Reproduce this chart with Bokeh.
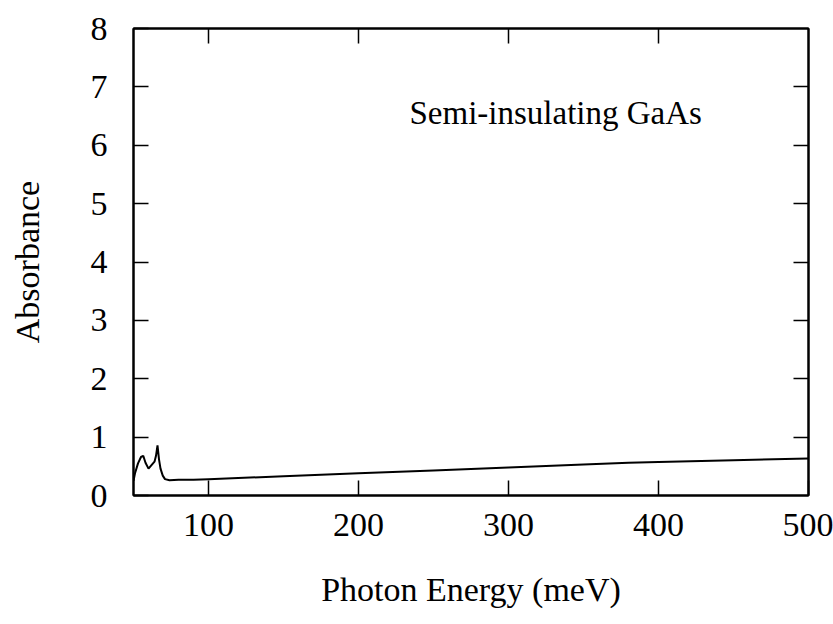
from bokeh.plotting import figure
from bokeh.models import LinearAxis, Range1d, FixedTicker, Label
from bokeh.embed import file_html
from bokeh.resources import INLINE

# Data
energy_mev = [50, 51, 53, 55, 56.5, 58, 60, 62, 64, 65, 66, 67, 68, 69.5, 71, 74,
              80, 90, 100, 150, 200, 250, 300, 350, 380, 400, 450, 500]
absorbance = [0.25, 0.38, 0.55, 0.66, 0.68, 0.56, 0.46, 0.52, 0.58, 0.68, 0.86, 0.62,
              0.46, 0.34, 0.28, 0.26, 0.27, 0.27, 0.28, 0.33, 0.38, 0.43, 0.48,
              0.53, 0.56, 0.575, 0.605, 0.635]
x_ticks = [100, 200, 300, 400, 500]
y_ticks = [0, 1, 2, 3, 4, 5, 6, 7, 8]
annotation = "Semi-insulating GaAs"
x_title = "Photon Energy (meV)"
y_title = "Absorbance"

FONT = "Liberation Serif"

p = figure(width=833, height=624, output_backend="svg", toolbar_location=None,
           x_range=Range1d(50, 500), y_range=Range1d(0, 8),
           min_border_left=133, min_border_right=25, min_border_top=28,
           min_border_bottom=129)
p.background_fill_color = "white"
p.border_fill_color = "white"
p.outline_line_color = "black"
p.outline_line_width = 2
p.grid.visible = False

p.line(energy_mev, absorbance, line_color="black", line_width=2)

# Main axes
for ax in (p.xaxis[0], p.yaxis[0]):
    ax.major_tick_in = 15
    ax.major_tick_out = 0
    ax.minor_tick_in = 0
    ax.minor_tick_out = 0
    ax.axis_line_width = 2
    ax.major_tick_line_width = 1.5
    ax.major_label_text_font = FONT
    ax.major_label_text_font_size = "34px"
    ax.major_label_text_color = "black"
    ax.axis_label_text_font = FONT
    ax.axis_label_text_font_size = "34px"
    ax.axis_label_text_font_style = "normal"
    ax.axis_label_text_color = "black"

p.xaxis[0].ticker = FixedTicker(ticks=x_ticks)
p.yaxis[0].ticker = FixedTicker(ticks=y_ticks)
p.xaxis[0].axis_label = x_title
p.yaxis[0].axis_label = y_title
p.xaxis[0].major_label_standoff = 18
p.xaxis[0].axis_label_standoff = 32
p.yaxis[0].major_label_standoff = 26
p.yaxis[0].axis_label_standoff = 42

# Mirror ticks on top and right
top = LinearAxis(ticker=FixedTicker(ticks=x_ticks[:-1]))
right = LinearAxis(ticker=FixedTicker(ticks=y_ticks[1:-1]))
for ax in (top, right):
    ax.major_tick_in = 15
    ax.major_tick_out = 0
    ax.minor_tick_in = 0
    ax.minor_tick_out = 0
    ax.axis_line_width = 2
    ax.major_tick_line_width = 1.5
    ax.major_label_text_font_size = "0px"
    ax.major_label_text_alpha = 0
p.add_layout(top, "above")
p.add_layout(right, "right")

p.add_layout(Label(x=234, y=6.56, text=annotation, text_font=FONT,
                   text_font_size="33px", text_baseline="middle",
                   text_align="left", text_color="black"))

open("out.html", "w").write(file_html(p, INLINE))
